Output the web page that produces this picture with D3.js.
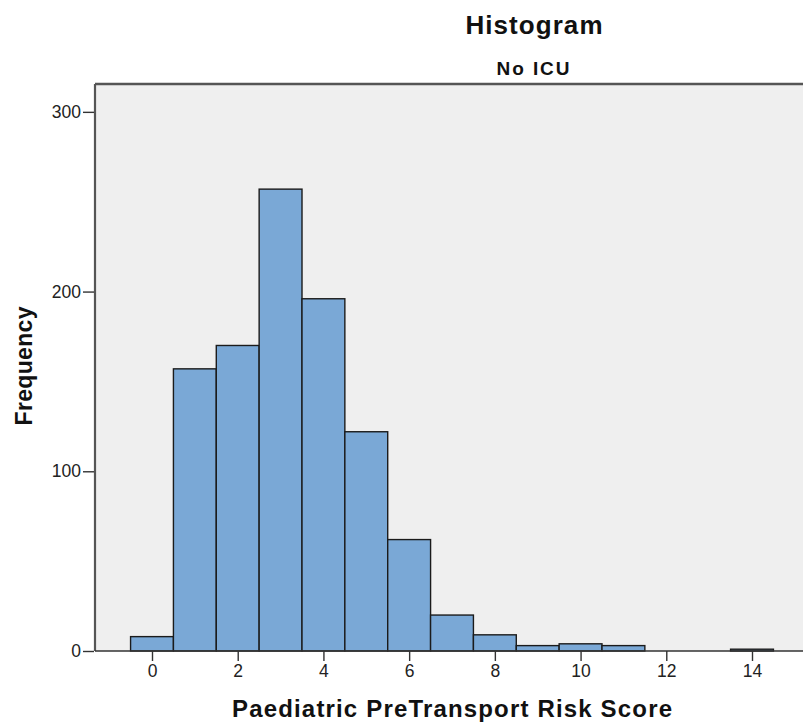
<!DOCTYPE html>
<html>
<head>
<meta charset="utf-8">
<script src="https://cdn.jsdelivr.net/npm/d3@7"></script>
<style>
  html, body { margin: 0; padding: 0; background: #ffffff; }
  svg { display: block; }
  text { font-family: "Liberation Sans", Arial, sans-serif; }
</style>
</head>
<body>
<div id="chart"></div>
<script>
// Histogram data: score bins (unit width, centred on each integer) and counts
const scores = [0, 1, 2, 3, 4, 5, 6, 7, 8, 9, 10, 11, 12, 13, 14];
const frequency = [8, 157, 170, 257, 196, 122, 62, 20, 9, 3, 4, 3, 0, 0, 1];
const xTicks = [0, 2, 4, 6, 8, 10, 12, 14];
const yTicks = [0, 100, 200, 300];

const W = 803, H = 722;
const plot = { left: 95, top: 84, bottom: 651, right: 812 };

const svg = d3.select("#chart").append("svg")
  .attr("width", W).attr("height", H);

const x = d3.scaleLinear().domain([-1.33, 15.4]).range([plot.left, plot.right]);
const y = d3.scaleLinear().domain([0, 315.5]).range([plot.bottom, plot.top]);

// plot background
svg.append("rect")
  .attr("x", plot.left).attr("y", plot.top)
  .attr("width", plot.right - plot.left).attr("height", plot.bottom - plot.top)
  .attr("fill", "#efefef");

// bars
svg.append("g").selectAll("rect")
  .data(scores.map((s, i) => ({ s, n: frequency[i] })).filter(d => d.n > 0))
  .join("rect")
  .attr("x", d => x(d.s - 0.5))
  .attr("y", d => y(d.n))
  .attr("width", d => x(d.s + 0.5) - x(d.s - 0.5))
  .attr("height", d => y(0) - y(d.n))
  .attr("fill", "#7aa8d6")
  .attr("stroke", "#1b1b1b")
  .attr("stroke-width", 1.4);

// frame: top and left borders
svg.append("line")
  .attr("x1", plot.left).attr("x2", plot.right)
  .attr("y1", plot.top).attr("y2", plot.top)
  .attr("stroke", "#555").attr("stroke-width", 2.4);
svg.append("line")
  .attr("x1", plot.left).attr("x2", plot.left)
  .attr("y1", plot.top).attr("y2", plot.bottom)
  .attr("stroke", "#555").attr("stroke-width", 2.2);

// y axis
const yAxis = svg.append("g")
  .attr("transform", `translate(${plot.left - 1},0)`)
  .call(d3.axisLeft(y).tickValues(yTicks).tickSize(11).tickPadding(2).tickFormat(d3.format("d")));
yAxis.select(".domain").remove();
yAxis.selectAll(".tick line").attr("stroke", "#333").attr("stroke-width", 1.4);
yAxis.selectAll(".tick text")
  .attr("fill", "#222").attr("font-size", 17.5)
  .attr("font-family", "Liberation Sans, Arial, sans-serif");

// x axis
const xAxis = svg.append("g")
  .attr("transform", `translate(0,${plot.bottom})`)
  .call(d3.axisBottom(x).tickValues(xTicks).tickSize(10).tickPadding(4).tickFormat(d3.format("d")));
xAxis.select(".domain")
  .attr("d", `M${plot.left},0H${plot.right}`)
  .attr("stroke", "#333").attr("stroke-width", 1.5);
xAxis.selectAll(".tick line").attr("stroke", "#333").attr("stroke-width", 1.4);
xAxis.selectAll(".tick text")
  .attr("fill", "#222").attr("font-size", 17.5)
  .attr("font-family", "Liberation Sans, Arial, sans-serif");

// titles
svg.append("text")
  .attr("x", 534).attr("y", 34)
  .attr("text-anchor", "middle")
  .attr("font-size", 26).attr("font-weight", "bold").attr("fill", "#111")
  .attr("textLength", 137).attr("lengthAdjust", "spacing")
  .text("Histogram");

svg.append("text")
  .attr("x", 533).attr("y", 75)
  .attr("text-anchor", "middle")
  .attr("font-size", 19).attr("font-weight", "bold").attr("fill", "#111")
  .attr("textLength", 73).attr("lengthAdjust", "spacing")
  .text("No ICU");

svg.append("text")
  .attr("x", 232).attr("y", 717)
  .attr("font-size", 24).attr("font-weight", "bold").attr("fill", "#111")
  .attr("textLength", 440).attr("lengthAdjust", "spacing")
  .text("Paediatric PreTransport Risk Score");

svg.append("text")
  .attr("transform", "translate(32,366) rotate(-90)")
  .attr("text-anchor", "middle")
  .attr("font-size", 23).attr("font-weight", "bold").attr("fill", "#111")
  .attr("textLength", 119).attr("lengthAdjust", "spacing")
  .text("Frequency");
</script>
</body>
</html>
